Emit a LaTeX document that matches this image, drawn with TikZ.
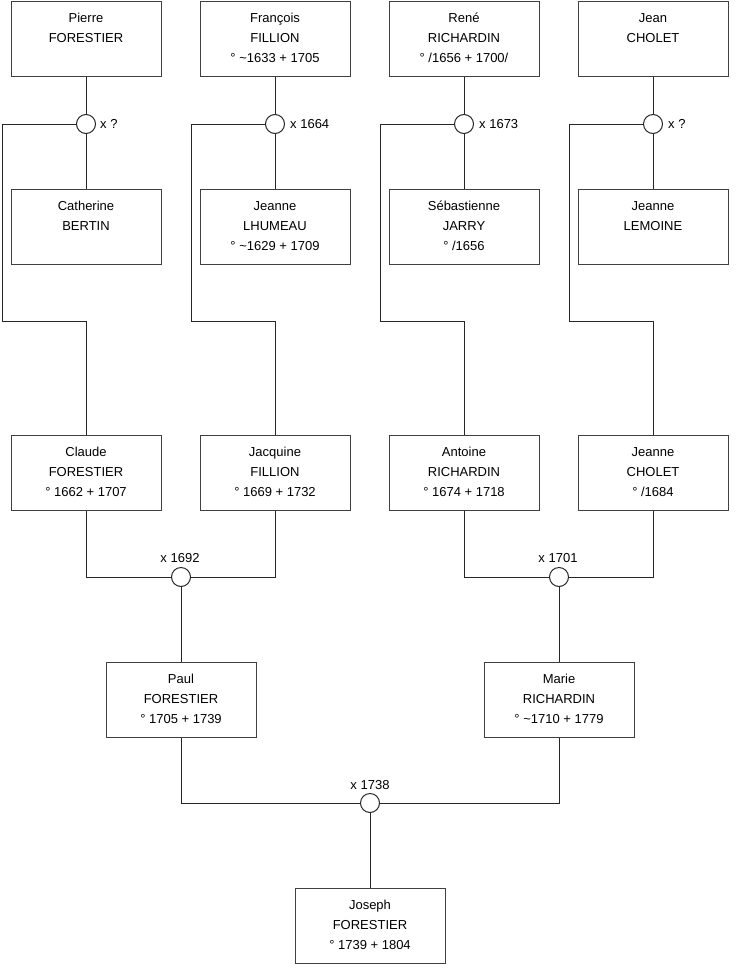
\documentclass[tikz,border=0pt]{standalone}
\usepackage{fontspec}
\setmainfont{Liberation Sans}
\newcommand{\personbox}[1]{\parbox[c][75pt][t]{150pt}{\centering\fontsize{13}{20}\selectfont\rule{0pt}{20.5pt}#1}}
\begin{document}
\begin{tikzpicture}[x=1pt,y=-1pt,
  line/.style={draw=black!85, line width=1pt},
  person/.style={draw=black!75, line width=1pt, rectangle, inner sep=0pt, anchor=north, minimum width=150pt, minimum height=75pt},
  ring/.style={draw=black!85, line width=1pt, fill=white, circle, inner sep=0pt, minimum size=19pt},
  lbl/.style={font=\fontsize{13}{15}\selectfont, inner sep=0pt}]
\useasboundingbox (0,0) rectangle (740,975);
% row 1
\node[person] (pierre) at (86,1) {\personbox{Pierre\\FORESTIER}};
\node[person] (francois) at (275,1) {\personbox{François\\FILLION\\° \textasciitilde1633 + 1705}};
\node[person] (rene) at (464,1) {\personbox{René\\RICHARDIN\\° /1656 + 1700/}};
\node[person] (jean) at (653,1) {\personbox{Jean\\CHOLET}};
% row 2
\node[person] (catherine) at (86,189) {\personbox{Catherine\\BERTIN}};
\node[person] (jeanneL) at (275,189) {\personbox{Jeanne\\LHUMEAU\\° \textasciitilde1629 + 1709}};
\node[person] (sebastienne) at (464,189) {\personbox{Sébastienne\\JARRY\\° /1656}};
\node[person] (jeanneM) at (653,189) {\personbox{Jeanne\\LEMOINE}};
% row 3
\node[person] (claude) at (86,435) {\personbox{Claude\\FORESTIER\\° 1662 + 1707}};
\node[person] (jacquine) at (275,435) {\personbox{Jacquine\\FILLION\\° 1669 + 1732}};
\node[person] (antoine) at (464,435) {\personbox{Antoine\\RICHARDIN\\° 1674 + 1718}};
\node[person] (jeanneC) at (653,435) {\personbox{Jeanne\\CHOLET\\° /1684}};
% row 4
\node[person] (paul) at (181,662) {\personbox{Paul\\FORESTIER\\° 1705 + 1739}};
\node[person] (marie) at (559,662) {\personbox{Marie\\RICHARDIN\\° \textasciitilde1710 + 1779}};
% row 5
\node[person] (joseph) at (370,888) {\personbox{Joseph\\FORESTIER\\° 1739 + 1804}};
% marriage rings
\node[ring] (m1) at (86,124) {};
\node[ring] (m2) at (275,124) {};
\node[ring] (m3) at (464,124) {};
\node[ring] (m4) at (653,124) {};
\node[ring] (m5) at (181,577) {};
\node[ring] (m6) at (559,577) {};
\node[ring] (m7) at (370,803) {};
% labels
\node[lbl, anchor=west] (l1) at (100,124) {x ?};
\node[lbl, anchor=west] (l2) at (290,124) {x 1664};
\node[lbl, anchor=west] (l3) at (479,124) {x 1673};
\node[lbl, anchor=west] (l4) at (668,124) {x ?};
\node[lbl] (l5) at (180,558) {x 1692};
\node[lbl] (l6) at (558,558) {x 1701};
\node[lbl] (l7) at (370,785) {x 1738};
% side routing coordinates
\coordinate (s1) at (2,321);
\coordinate (s2) at (191,321);
\coordinate (s3) at (380,321);
\coordinate (s4) at (569,321);
% connectors
\foreach \h/\m/\w/\s/\c in {pierre/m1/catherine/s1/claude, francois/m2/jeanneL/s2/jacquine, rene/m3/sebastienne/s3/antoine, jean/m4/jeanneM/s4/jeanneC}{
  \draw[line] (\h.south) -- (\m.north);
  \draw[line] (\m.south) -- (\w.north);
  \draw[line] (\m.west) -- (\m.west -| \s) -- (\s) -- (\s -| \c.north) -- (\c.north);
}
\draw[line] (claude.south) |- (m5.west);
\draw[line] (jacquine.south) |- (m5.east);
\draw[line] (m5.south) -- (paul.north);
\draw[line] (antoine.south) |- (m6.west);
\draw[line] (jeanneC.south) |- (m6.east);
\draw[line] (m6.south) -- (marie.north);
\draw[line] (paul.south) |- (m7.west);
\draw[line] (marie.south) |- (m7.east);
\draw[line] (m7.south) -- (joseph.north);
\end{tikzpicture}
\end{document}
